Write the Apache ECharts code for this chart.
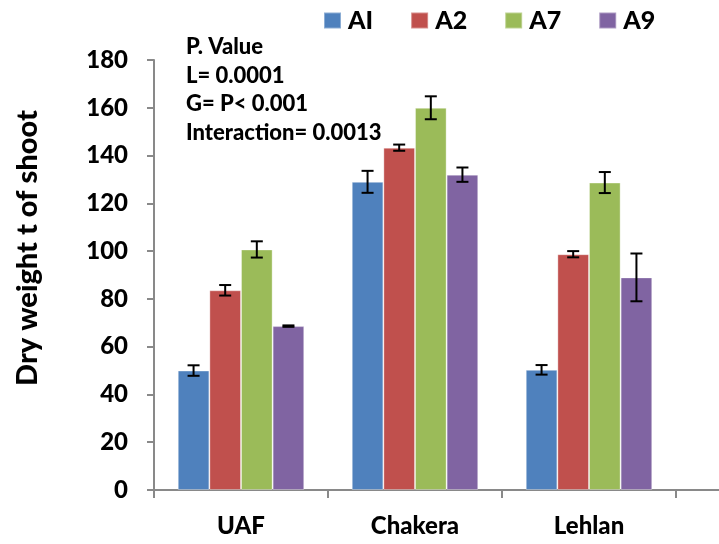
<!DOCTYPE html>
<html>
<head>
<meta charset="utf-8">
<script src="https://cdn.jsdelivr.net/npm/echarts@6/dist/echarts.min.js"></script>
<style>
  html, body { margin: 0; padding: 0; background: #fff; }
  #chart { width: 719px; height: 544px; }
</style>
</head>
<body>
<div id="chart"></div>
<script>
// Shoot dry weight by location and accession, with standard error bars
const categories = ['UAF', 'Chakera', 'Lehlan'];
const seriesNames = ['AI', 'A2', 'A7', 'A9'];
const valuesAI = [50.0, 129.0, 50.3];
const valuesA2 = [83.6, 143.3, 98.7];
const valuesA7 = [100.7, 160.0, 128.7];
const valuesA9 = [68.6, 132.0, 89.0];
const errorsAI = [2.2, 4.6, 2.0];
const errorsA2 = [2.2, 1.3, 1.3];
const errorsA7 = [3.4, 4.8, 4.4];
const errorsA9 = [0.3, 3.0, 10.0];
const yTicks = [0, 20, 40, 60, 80, 100, 120, 140, 160, 180];
const noteLines = ['P. Value', 'L= 0.0001', 'G= P< 0.001', 'Interaction= 0.0013'];

const colors = ['#4F81BD', '#C0504D', '#9BBB59', '#8064A2'];
const values = [valuesAI, valuesA2, valuesA7, valuesA9];
const errors = [errorsAI, errorsA2, errorsA7, errorsA9];
const FONT = 'Lato, "Open Sans", sans-serif';
const WEIGHT = 900;
const CATEGORY_GAP = 0.273;

const chart = echarts.init(document.getElementById('chart'), null, { renderer: 'canvas' });

const barSeries = seriesNames.map((name, i) => ({
  name: name,
  type: 'bar',
  data: values[i],
  barGap: '0%',
  barCategoryGap: (CATEGORY_GAP * 100) + '%',
  itemStyle: { color: colors[i], borderColor: 'rgba(255,255,255,0.35)', borderWidth: 1 },
  emphasis: { disabled: true },
  z: 2
}));

// Error bars positioned over each bar of the group
const errorSeries = seriesNames.map((name, i) => ({
  type: 'custom',
  name: name + ' error',
  data: values[i].map((v, k) => [k, v, errors[i][k]]),
  z: 5,
  silent: true,
  renderItem: function (params, api) {
    const cat = api.value(0);
    const v = api.value(1);
    const e = api.value(2);
    const bandWidth = api.size([1, 0])[0];
    const barW = bandWidth * (1 - CATEGORY_GAP) / seriesNames.length;
    const offset = (i - (seriesNames.length - 1) / 2) * barW;
    const hi = api.coord([cat, v + e]);
    const lo = api.coord([cat, v - e]);
    const x = hi[0] + offset;
    const cap = 6;
    const style = { stroke: '#000', lineWidth: 2 };
    return {
      type: 'group',
      children: [
        { type: 'line', shape: { x1: x, y1: hi[1], x2: x, y2: lo[1] }, style: style },
        { type: 'line', shape: { x1: x - cap, y1: hi[1], x2: x + cap, y2: hi[1] }, style: style },
        { type: 'line', shape: { x1: x - cap, y1: lo[1], x2: x + cap, y2: lo[1] }, style: style }
      ]
    };
  }
}));

const option = {
  animation: false,
  backgroundColor: '#ffffff',
  grid: { left: 154, right: 43, top: 60, bottom: 54 },
  legend: {
    data: seriesNames,
    left: 318,
    top: 3,
    itemWidth: 17,
    itemHeight: 16,
    itemGap: 37,
    icon: 'rect',
    textStyle: { fontFamily: FONT, fontWeight: WEIGHT, fontSize: 25, color: '#000', padding: [0, 0, 0, 2] },
    selectedMode: false
  },
  xAxis: {
    type: 'category',
    data: categories,
    axisLine: { lineStyle: { color: '#898989', width: 2 } },
    axisTick: { show: true, length: 8, lineStyle: { color: '#898989', width: 2 } },
    axisLabel: { color: '#000', fontFamily: FONT, fontWeight: WEIGHT, fontSize: 24, margin: 24 },
    splitLine: { show: false }
  },
  yAxis: {
    type: 'value',
    min: yTicks[0],
    max: yTicks[yTicks.length - 1],
    interval: yTicks[1] - yTicks[0],
    axisLine: { show: true, lineStyle: { color: '#898989', width: 2 } },
    axisTick: { show: true, length: 7, lineStyle: { color: '#898989', width: 2 } },
    axisLabel: { color: '#000', fontFamily: FONT, fontWeight: WEIGHT, fontSize: 24, margin: 26 },
    splitLine: { show: false }
  },
  graphic: [
    {
      type: 'line',
      shape: { x1: 676, y1: 490, x2: 719, y2: 490 },
      style: { stroke: '#898989', lineWidth: 2 },
      silent: true
    },
    {
      type: 'text',
      x: 28,
      y: 248,
      rotation: Math.PI / 2,
      style: {
        text: 'Dry weight t of shoot',
        fontFamily: FONT,
        fontWeight: WEIGHT,
        fontSize: 29,
        fill: '#000',
        textAlign: 'center',
        textVerticalAlign: 'middle'
      }
    },
    {
      type: 'text',
      left: 186,
      top: 33,
      style: {
        text: noteLines.join('\n'),
        fontFamily: FONT,
        fontWeight: WEIGHT,
        fontSize: 22,
        lineHeight: 28.5,
        fill: '#000'
      }
    }
  ],
  series: barSeries.concat(errorSeries)
};

chart.setOption(option);
</script>
</body>
</html>
